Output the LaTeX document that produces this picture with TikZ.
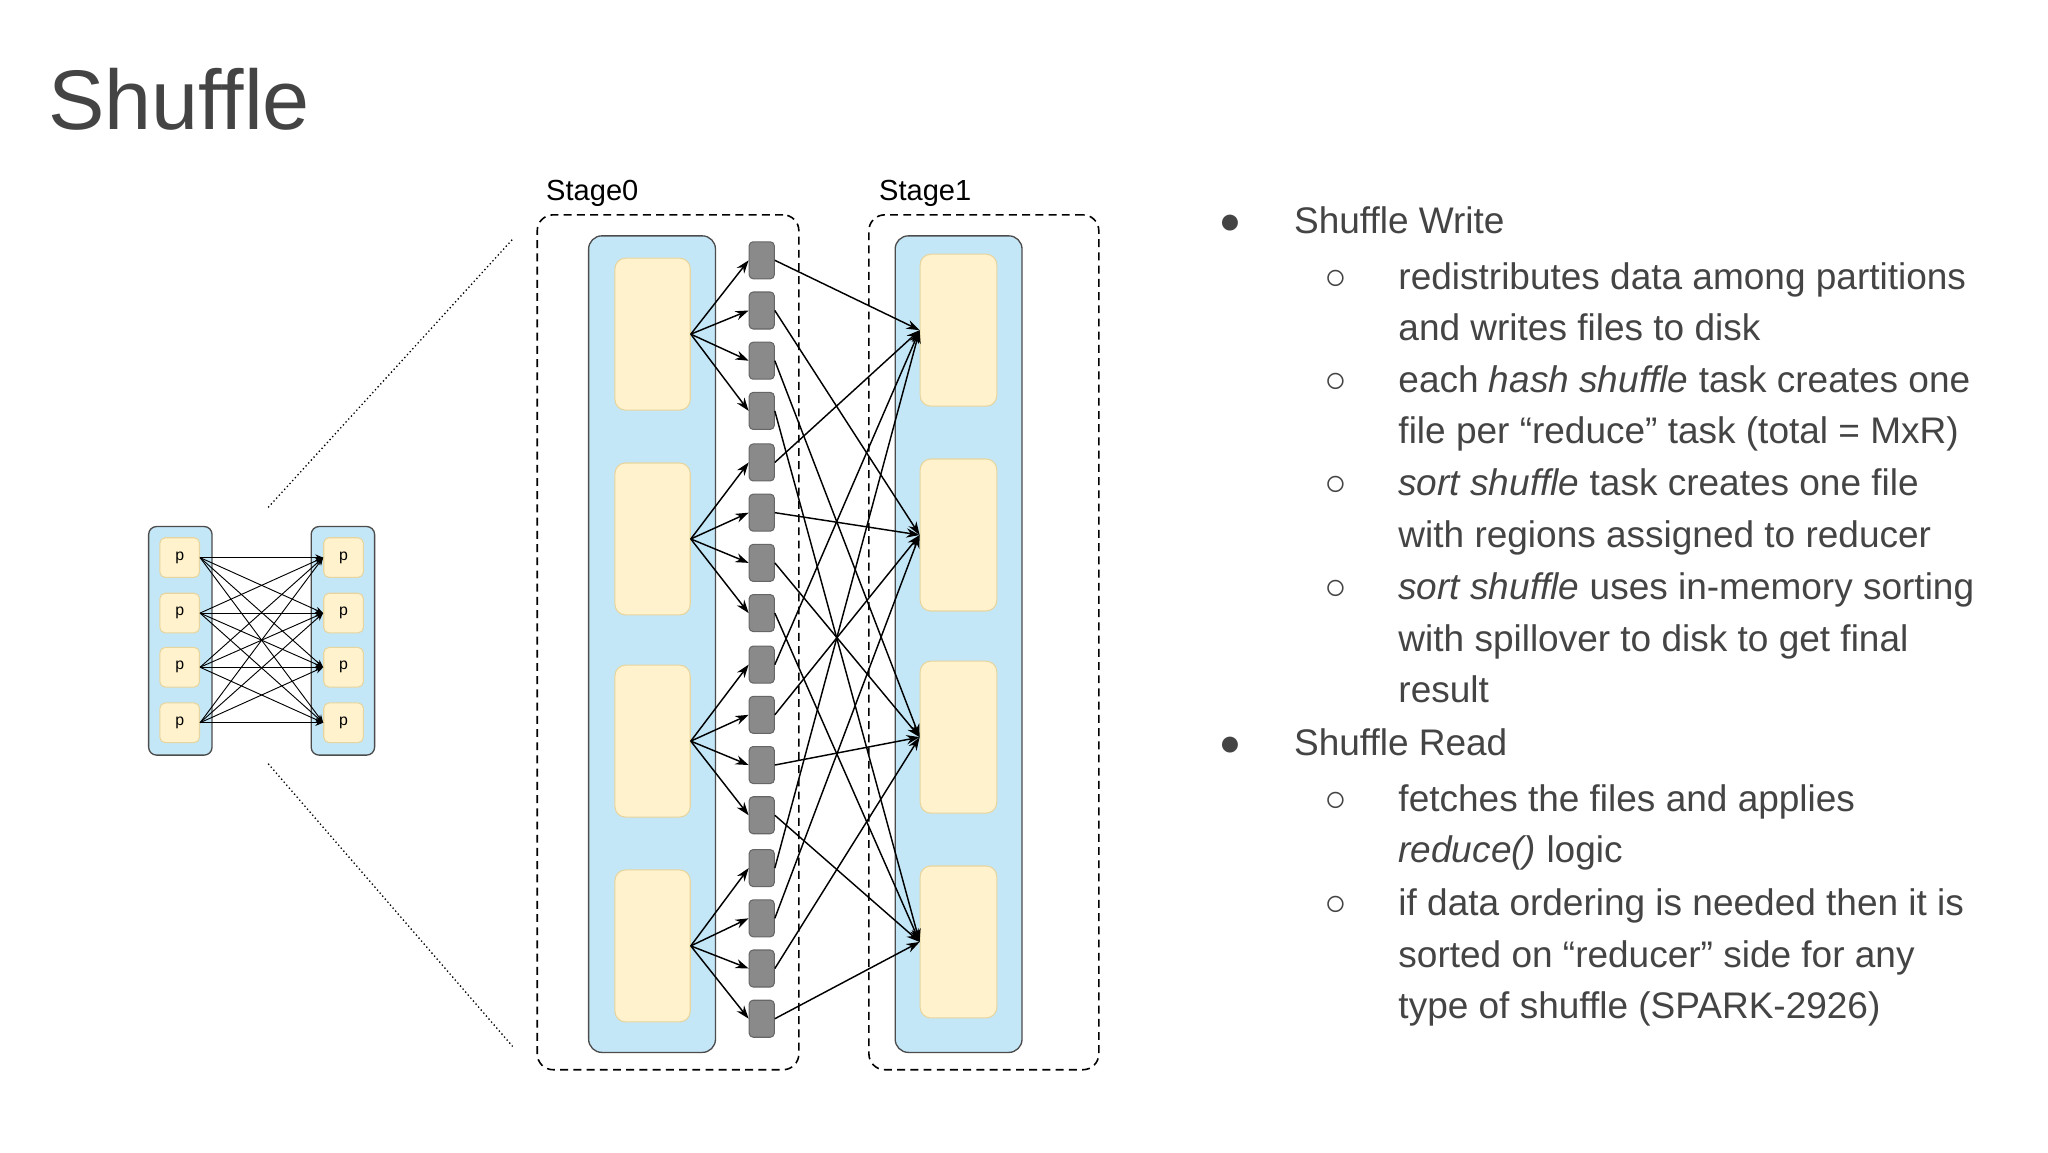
\documentclass[tikz,border=0pt]{standalone}
\usepackage{fontspec}
\setmainfont{Liberation Sans}
\usetikzlibrary{arrows.meta}
\definecolor{bl}{HTML}{C4E7F8}
\definecolor{yl}{HTML}{FFF2CC}
\definecolor{ylb}{HTML}{E6D59E}
\definecolor{gr}{HTML}{8A8A8A}
\definecolor{tx}{HTML}{444444}
\begin{document}
\begin{tikzpicture}[x=0.5pt,y=-0.5pt,
  blue/.style={draw=black!70,fill=bl,rounded corners=5pt,line width=0.5pt},
  yel/.style={draw=ylb,fill=yl,rounded corners=4pt,line width=0.4pt},
  file/.style={draw=black!60,fill=gr,rounded corners=1.5pt,line width=0.4pt},
  arr/.style={-{Stealth[length=5pt,width=3.5pt]},line width=0.55pt},
  sarr/.style={-{Stealth[length=3pt,width=2.4pt]},line width=0.35pt},
  stage/.style={draw,dashed,rounded corners=6pt,line width=0.6pt,dash pattern=on 3pt off 2pt},
  bul/.style={anchor=base west,font=\fontsize{14}{16}\selectfont,text=tx,inner sep=0pt},
]
\useasboundingbox[fill=white] (0,0) rectangle (1550,872);
\node[anchor=base west,font=\fontsize{32}{36}\selectfont,text=tx,inner sep=0pt] (title) at (36,98) {Shuffle};
% small diagram
\node[blue,minimum width=24pt,minimum height=86.5pt,anchor=north west,rounded corners=3pt] (sl) at (112,398) {};
\node[blue,minimum width=24pt,minimum height=86.5pt,anchor=north west,rounded corners=3pt] (sr) at (235,398) {};
\foreach \i/\y in {1/422,2/464,3/505,4/547}{
  \node[yel,minimum width=15pt,minimum height=15pt,rounded corners=2pt,font=\fontsize{6}{6}\selectfont] (pl\i) at (136,\y) {p};
  \node[yel,minimum width=15pt,minimum height=15pt,rounded corners=2pt,font=\fontsize{6}{6}\selectfont] (pr\i) at (260,\y) {p};
}
\foreach \i in {1,...,4}{\foreach \j in {1,...,4}{
  \draw[sarr] (pl\i.east) -- (pr\j.west);}}
\coordinate (d1) at (203,384); \coordinate (d2) at (388,181);
\coordinate (d3) at (203,578); \coordinate (d4) at (388,792);
\draw[densely dotted,line width=0.5pt] (d1) -- (d2);
\draw[densely dotted,line width=0.5pt] (d3) -- (d4);
% stages
\node[stage,minimum width=99pt,minimum height=323.5pt,anchor=north west] (st0) at (406,162) {};
\node[stage,minimum width=87pt,minimum height=323.5pt,anchor=north west] (st1) at (657,162) {};
\node[anchor=base west,inner sep=0pt,font=\fontsize{11}{12}\selectfont] (l0) at (413,152) {Stage0};
\node[anchor=base west,inner sep=0pt,font=\fontsize{11}{12}\selectfont] (l1) at (665,152) {Stage1};
\node[blue,minimum width=48pt,minimum height=309pt,anchor=north west] (b0) at (445,178) {};
\node[blue,minimum width=48pt,minimum height=309pt,anchor=north west] (b1) at (677,178) {};
\foreach \i/\y in {0/195,1/350,2/503,3/658}{
  \node[yel,minimum width=28.5pt,minimum height=57.5pt,anchor=north west] (m\i) at (465,\y) {};}
\foreach \j/\y in {0/192,1/347,2/500,3/655}{
  \node[yel,minimum width=29pt,minimum height=57.5pt,anchor=north west] (r\j) at (696,\y) {};}
\foreach \i/\b in {0/197,1/350,2/503,3/657}{
  \foreach \j in {0,...,3}{
    \node[file,minimum width=9.5pt,minimum height=14pt,inner sep=0pt] (f\i\j) at (576.5,{\b+\j*38}) {};
    \draw[arr] (m\i.east) -- (f\i\j.west);
    \draw[arr] (f\i\j.east) -- (r\j.west);
}}
% text
\node[bul] (b1) at (922,177) {●};
\node[bul] (t1) at (979,177) {Shuffle Write};
\foreach \y/\t in {219/{redistributes data among partitions},258/{and writes files to disk},
  297/{each \textit{hash shuffle} task creates one},336/{file per “reduce” task (total = MxR)},
  375/{\textit{sort shuffle} task creates one file},414/{with regions assigned to reducer},
  454/{\textit{sort shuffle} uses in-memory sorting},493/{with spillover to disk to get final},
  532/{result},614/{fetches the files and applies},653/{\textit{reduce()} logic},
  693/{if data ordering is needed then it is},732/{sorted on “reducer” side for any},
  771/{type of shuffle (SPARK-2926)}}{
  \node[bul] at (1058,\y) {\t};}
\foreach \y in {219,297,375,454,614,693}{\node[bul] at (1002,\y) {○};}
\node[bul] (b2) at (922,572) {●};
\node[bul] (t2) at (979,572) {Shuffle Read};
\end{tikzpicture}
\end{document}
